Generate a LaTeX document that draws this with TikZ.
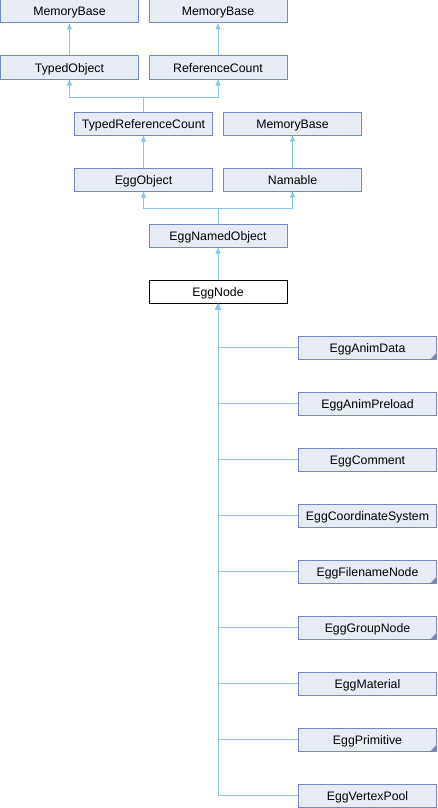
\documentclass[tikz,border=0pt]{standalone}
\usepackage{fontspec}
\setmainfont{Liberation Sans}
\usetikzlibrary{arrows.meta}
\definecolor{nodefill}{HTML}{E8ECF5}
\definecolor{nodeline}{HTML}{7289C4}
\definecolor{edgeblue}{HTML}{8DC5E6}
\tikzset{
  cls/.style={draw=nodeline, fill=nodefill, line width=1pt, minimum width=138pt,
    minimum height=23pt, inner sep=0pt, text height=9pt, text depth=0pt,
    font=\fontsize{12.3}{14}\selectfont},
  current/.style={cls, draw=black, fill=white},
  edge/.style={draw=edgeblue, line width=1pt, -{Triangle[width=5pt,length=6pt]}},
  link/.style={draw=edgeblue, line width=1pt},
  more/.style={fill=nodeline, draw=none}
}
\newcommand{\morechildren}[1]{%
  \fill[more] ([shift={(-0.5,-0.5)}]#1.south east) -- ++(0,-6) -- ++(-6,6) -- cycle;}
\begin{document}
\begin{tikzpicture}[x=1pt,y=-1pt]
\useasboundingbox (0,0) rectangle (437,808);
% base classes
\node[cls] (mbA) at (69.5,11.5) {MemoryBase};
\node[cls] (mbB) at (218,11.5) {MemoryBase};
\node[cls] (tobj) at (69.5,67.5) {TypedObject};
\node[cls] (rcnt) at (218,67.5) {ReferenceCount};
\node[cls] (trc) at (143.5,123.5) {TypedReferenceCount};
\node[cls] (mbC) at (292.5,123.5) {MemoryBase};
\node[cls] (eobj) at (143.5,179.5) {EggObject};
\node[cls] (nmbl) at (292.5,179.5) {Namable};
\node[cls] (enobj) at (218,235.5) {EggNamedObject};
\node[current] (enode) at (218,291.5) {EggNode};
% derived classes
\foreach \nm/\txt [count=\i from 0] in {cA/EggAnimData, cB/EggAnimPreload, cC/EggComment,
    cD/EggCoordinateSystem, cE/EggFilenameNode, cF/EggGroupNode, cG/EggMaterial,
    cH/EggPrimitive, cI/EggVertexPool}
  \node[cls] (\nm) at (367.5,347.5+56*\i) {\txt};
% inheritance edges
\draw[edge] (tobj) -- (mbA);
\draw[edge] (rcnt) -- (mbB);
\coordinate (j1) at (143.5,97);
\draw[link] (trc.north) -- (j1);
\draw[edge] (j1) -| (tobj.south);
\draw[edge] (j1) -| (rcnt.south);
\draw[edge] (eobj) -- (trc);
\draw[edge] (nmbl) -- (mbC);
\coordinate (j2) at (218,208);
\draw[link] (enobj.north) -- (j2);
\draw[edge] (j2) -| (eobj.south);
\draw[edge] (j2) -| (nmbl.south);
\draw[edge] (enode) -- (enobj);
\foreach \nm in {cA,cB,cC,cD,cE,cF,cG,cH,cI}
  \draw[edge] (\nm.west) -| (enode.south);
% markers for classes with further subclasses
\morechildren{cA}
\morechildren{cE}
\morechildren{cF}
\morechildren{cH}
\end{tikzpicture}
\end{document}
